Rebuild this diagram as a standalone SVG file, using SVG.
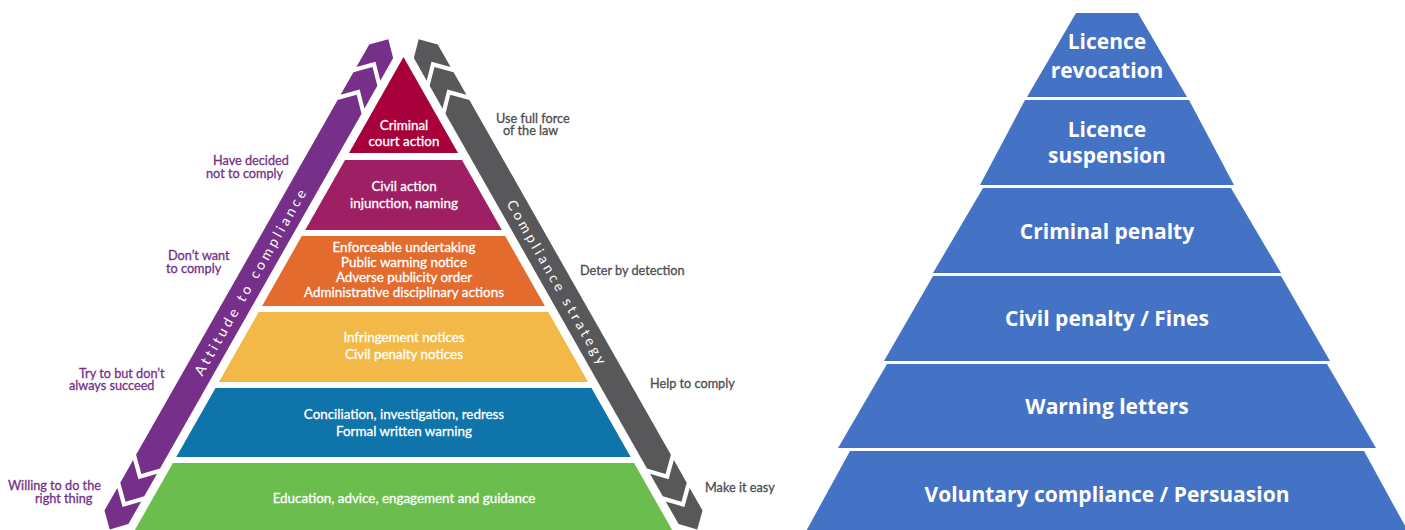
<svg xmlns="http://www.w3.org/2000/svg" xmlns:xlink="http://www.w3.org/1999/xlink" width="1405" height="530" viewBox="0 0 1405 530">
<style>
.pt{font-family:Lato,"Open Sans","DejaVu Sans",sans-serif;font-size:13.4px;fill:#fff;stroke:#fff;stroke-width:0.3px;text-anchor:middle}
.lp{font-family:Lato,"Open Sans","DejaVu Sans",sans-serif;font-size:12.7px;fill:#763089;stroke:#763089;stroke-width:0.3px}
.lg{font-family:Lato,"Open Sans","DejaVu Sans",sans-serif;font-size:12.7px;fill:#4d4d50;stroke:#4d4d50;stroke-width:0.3px}
.bt{font-family:Lato,"Open Sans","DejaVu Sans",sans-serif;font-size:14px;fill:#fff;text-anchor:middle;letter-spacing:3.4px}
.rp{fill:#4472c4}
.rt{font-family:"Open Sans","DejaVu Sans",sans-serif;font-weight:700;font-size:21px;fill:#fff;text-anchor:middle}
</style>
<defs>
<g id="band">
<polygon points="-6,-36 8,-22 -6,-8.5 -32,-8.5 -18,-22 -32,-36"/>
<polygon points="-38,-36 -24,-22 -38,-8.5 -64,-8.5 -50,-22 -64,-36"/>
<polygon points="-70,-36 -56,-22 -70,-8.5 -478,-8.5 -492,-22 -478,-36"/>
<polygon points="-484,-36 -498,-22 -484,-8.5 -510,-8.5 -524,-22 -510,-36"/>
<polygon points="-516,-36 -530,-22 -516,-8.5 -542,-8.5 -556,-22 -542,-36"/>
</g>
</defs>
<rect width="1405" height="530" fill="#fff"/>

<g id="left-pyramid">
<g id="layer-criminal"><polygon points="403.5,57 458,153 349,153" fill="#a8003b"/>
<text class="pt" x="404" y="130">Criminal</text><text class="pt" x="404" y="146">court action</text></g>
<g id="layer-civil"><polygon points="345,160 462,160 501.8,230 305.2,230" fill="#9e1f63"/>
<text class="pt" x="404" y="191">Civil action</text><text class="pt" x="404" y="208">injunction, naming</text></g>
<g id="layer-enforce"><polygon points="301.8,236 505.2,236 544.9,306 262.1,306" fill="#e26b2d"/>
<text class="pt" x="404" y="252">Enforceable undertaking</text><text class="pt" x="404" y="267">Public warning notice</text><text class="pt" x="404" y="282">Adverse publicity order</text><text class="pt" x="404" y="296.5">Administrative disciplinary actions</text></g>
<g id="layer-infringe"><polygon points="258.7,312 548.3,312 588.1,382 218.9,382" fill="#f3b948"/>
<text class="pt" x="404" y="342">Infringement notices</text><text class="pt" x="404" y="358.5">Civil penalty notices</text></g>
<g id="layer-concil"><polygon points="215.5,388 591.5,388 630.7,457 176.3,457" fill="#0e74a9"/>
<text class="pt" x="404" y="419">Conciliation, investigation, redress</text><text class="pt" x="404" y="436">Formal written warning</text></g>
<g id="layer-educ"><polygon points="172.9,463 634.1,463 675,535 132,535" fill="#6bbe4e"/>
<text class="pt" x="404" y="503">Education, advice, engagement and guidance</text></g>
</g>

<g id="connectors">
<g id="attitude-band">
<use xlink:href="#band" href="#band" fill="#763089" transform="translate(403.5,57) rotate(-60.4)"/>
<text class="bt" transform="translate(403.5,57) rotate(-60.4)" x="-270" y="-17">Attitude to compliance</text>
</g>
<g id="strategy-band">
<use xlink:href="#band" href="#band" fill="#58585b" transform="translate(807,0) scale(-1,1) translate(403.5,57) rotate(-60.4)"/>
<text class="bt" transform="translate(403.5,57) rotate(60.4)" x="273" y="-17">Compliance strategy</text>
</g>
</g>

<g id="left-labels">
<text class="lp" x="213" y="165">Have decided</text><text class="lp" x="206" y="178">not to comply</text>
<text class="lp" x="168" y="260">Don’t want</text><text class="lp" x="166" y="273">to comply</text>
<text class="lp" x="79" y="377.5">Try to but don’t</text><text class="lp" x="69" y="390">always succeed</text>
<text class="lp" x="8" y="489.5">Willing to do the</text><text class="lp" x="35" y="502.5">right thing</text>
</g>
<g id="right-labels">
<text class="lg" x="496" y="122.5">Use full force</text><text class="lg" x="503" y="135">of the law</text>
<text class="lg" x="580" y="275">Deter by detection</text>
<text class="lg" x="650" y="388">Help to comply</text>
<text class="lg" x="705" y="492">Make it easy</text>
</g>

<g id="right-pyramid">
<g id="r-revocation"><polygon class="rp" points="1076,13 1138,13 1187,97 1027,97"/>
<text class="rt" x="1107" y="49">Licence</text><text class="rt" x="1107" y="78">revocation</text></g>
<g id="r-suspension"><polygon class="rp" points="1025,100 1189,100 1234,185 980,185"/>
<text class="rt" x="1107" y="137">Licence</text><text class="rt" x="1107" y="163">suspension</text></g>
<g id="r-criminal"><polygon class="rp" points="983,188 1231,188 1281,273 933,273"/>
<text class="rt" x="1107" y="239">Criminal penalty</text></g>
<g id="r-civil"><polygon class="rp" points="933,276 1281,276 1330,361 884,361"/>
<text class="rt" x="1107" y="326">Civil penalty / Fines</text></g>
<g id="r-warning"><polygon class="rp" points="887,364 1327,364 1376,448 838,448"/>
<text class="rt" x="1107" y="414">Warning letters</text></g>
<g id="r-voluntary"><polygon class="rp" points="850,451 1364,451 1410,535 804,535"/>
<text class="rt" x="1107" y="502">Voluntary compliance / Persuasion</text></g>
</g>
</svg>
